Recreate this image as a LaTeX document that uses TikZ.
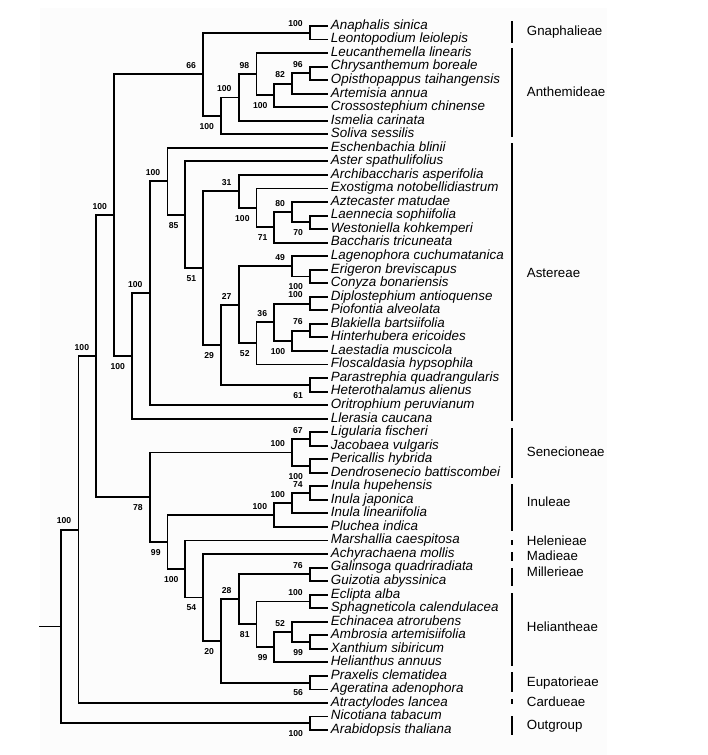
\documentclass[tikz,border=0pt]{standalone}
\usepackage{fontspec}
\setmainfont{Liberation Sans}
\begin{document}
\begin{tikzpicture}[x=1pt,y=-1pt,line width=1.9pt,line join=miter,
  taxon/.style={anchor=west,font=\fontsize{13.4}{14}\selectfont\itshape,inner xsep=2.3pt,inner ysep=0pt,text height=10pt,text depth=3.3pt},
  clade/.style={anchor=west,font=\fontsize{13.3}{14}\selectfont,inner sep=0pt,text height=10pt,text depth=3.3pt},
  supa/.style={anchor=south east,font=\fontsize{8.6}{9}\selectfont\bfseries,inner sep=0pt,xshift=-6.3pt,yshift=4.8pt},
  supb/.style={anchor=north east,font=\fontsize{8.6}{9}\selectfont\bfseries,inner sep=0pt,xshift=-6pt,yshift=-6.3pt},
  bar/.style={line width=1.9pt}]
\useasboundingbox (0,0) rectangle (708,755);
\fill[black!1] (40,8) rectangle (607,755);
% leaves
\foreach \t [count=\i from 0] in {Anaphalis sinica,Leontopodium leiolepis,Leucanthemella linearis,Chrysanthemum boreale,Opisthopappus taihangensis,Artemisia annua,Crossostephium chinense,Ismelia carinata,Soliva sessilis,Eschenbachia blinii,Aster spathulifolius,Archibaccharis asperifolia,Exostigma notobellidiastrum,Aztecaster matudae,Laennecia sophiifolia,Westoniella kohkemperi,Baccharis tricuneata,Lagenophora cuchumatanica,Erigeron breviscapus,Conyza bonariensis,Diplostephium antioquense,Piofontia alveolata,Blakiella bartsiifolia,Hinterhubera ericoides,Laestadia muscicola,Floscaldasia hypsophila,Parastrephia quadrangularis,Heterothalamus alienus,Oritrophium peruvianum,Llerasia caucana,Ligularia fischeri,Jacobaea vulgaris,Pericallis hybrida,Dendrosenecio battiscombei,Inula hupehensis,Inula japonica,Inula lineariifolia,Pluchea indica,Marshallia caespitosa,Achyrachaena mollis,Galinsoga quadriradiata,Guizotia abyssinica,Eclipta alba,Sphagneticola calendulacea,Echinacea atrorubens,Ambrosia artemisiifolia,Xanthium sibiricum,Helianthus annuus,Praxelis clematidea,Ageratina adenophora,Atractylodes lancea,Nicotiana tabacum,Arabidopsis thaliana}
  \node[taxon] (t\i) at (327.7,{26+13.54*\i}) {\t};
% internal nodes
\coordinate (G) at (309.9,32.77);
\coordinate (A6) at (309.9,73.39);
\coordinate (A5) at (292.1,83.55);
\coordinate (A4) at (274.3,95.39);
\coordinate (A3) at (256.5,74.24);
\coordinate (A2) at (238.7,97.51);
\coordinate (A1) at (220.9,115.91);
\coordinate (A0) at (203.1,74.34);
\coordinate (B310) at (309.9,222.33);
\coordinate (B292) at (292.1,212.18);
\coordinate (B275) at (274.3,227.41);
\coordinate (B257) at (256.5,207.94);
\coordinate (B239) at (238.7,191.44);
\coordinate (C310) at (309.9,276.49);
\coordinate (C292) at (292.1,266.34);
\coordinate (D310) at (309.9,303.57);
\coordinate (E310) at (309.9,330.65);
\coordinate (E292) at (292.1,340.81);
\coordinate (D275) at (274.3,322.19);
\coordinate (D257) at (256.5,343.35);
\coordinate (C239) at (238.7,304.84);
\coordinate (F310) at (309.9,384.81);
\coordinate (C221) at (220.9,344.83);
\coordinate (B203) at (203.1,268.14);
\coordinate (B185) at (185.3,214.77);
\coordinate (B168) at (167.5,181.32);
\coordinate (B150) at (149.7,293.22);
\coordinate (B132) at (131.9,355.94);
\coordinate (N114) at (114.1,215.14);
\coordinate (S1) at (309.9,438.97);
\coordinate (S2) at (309.9,466.05);
\coordinate (S0) at (292.1,452.51);
\coordinate (I2) at (309.9,493.13);
\coordinate (I1) at (292.1,503.29);
\coordinate (I0) at (274.3,515.14);
\coordinate (M310) at (309.9,574.37);
\coordinate (E2) at (309.9,601.45);
\coordinate (AX) at (309.9,642.07);
\coordinate (H292) at (292.1,631.92);
\coordinate (H275) at (274.3,647.15);
\coordinate (H257) at (256.5,624.30);
\coordinate (H239) at (238.7,599.34);
\coordinate (P310) at (309.9,682.69);
\coordinate (H221) at (220.9,641.02);
\coordinate (H203) at (203.1,597.54);
\coordinate (H185) at (185.3,569.03);
\coordinate (N168) at (167.5,542.09);
\coordinate (N150) at (149.7,497.30);
\coordinate (N97) at (96.3,356.22);
\coordinate (N78) at (78.5,529.61);
\coordinate (O310) at (309.9,723.31);
\coordinate (Root) at (60.7,626.46);
\coordinate (R0) at (39.3,626.46);
% branches: Gnaphalieae + Anthemideae
\draw (t0.west) -| (G) |- (t1.west);
\draw (t3.west) -| (A6) |- (t4.west);
\draw (A6) -| (A5) |- (t5.west);
\draw (A5) -| (A4) |- (t6.west);
\draw (t2.west) -| (A3) |- (A4);
\draw (A3) -| (A2) |- (t7.west);
\draw (A2) -| (A1) |- (t8.west);
\draw (G) -| (A0) |- (A1);
% Astereae
\draw (t14.west) -| (B310) |- (t15.west);
\draw (t13.west) -| (B292) |- (B310);
\draw (B292) -| (B275) |- (t16.west);
\draw (t12.west) -| (B257) |- (B275);
\draw (t11.west) -| (B239) |- (B257);
\draw (t18.west) -| (C310) |- (t19.west);
\draw (t17.west) -| (C292) |- (C310);
\draw (t20.west) -| (D310) |- (t21.west);
\draw (t22.west) -| (E310) |- (t23.west);
\draw (E310) -| (E292) |- (t24.west);
\draw (D310) -| (D275) |- (E292);
\draw (D275) -| (D257) |- (t25.west);
\draw (C292) -| (C239) |- (D257);
\draw (t26.west) -| (F310) |- (t27.west);
\draw (C239) -| (C221) |- (F310);
\draw (B239) -| (B203) |- (C221);
\draw (t10.west) -| (B185) |- (B203);
\draw (t9.west) -| (B168) |- (B185);
\draw (B168) -| (B150) |- (t28.west);
\draw (B150) -| (B132) |- (t29.west);
\draw (A0) -| (N114) |- (B132);
% Senecioneae, Inuleae
\draw (t30.west) -| (S1) |- (t31.west);
\draw (t32.west) -| (S2) |- (t33.west);
\draw (S1) -| (S0) |- (S2);
\draw (t34.west) -| (I2) |- (t35.west);
\draw (I2) -| (I1) |- (t36.west);
\draw (I1) -| (I0) |- (t37.west);
% Heliantheae alliance
\draw (t40.west) -| (M310) |- (t41.west);
\draw (t42.west) -| (E2) |- (t43.west);
\draw (t45.west) -| (AX) |- (t46.west);
\draw (t44.west) -| (H292) |- (AX);
\draw (H292) -| (H275) |- (t47.west);
\draw (E2) -| (H257) |- (H275);
\draw (M310) -| (H239) |- (H257);
\draw (t48.west) -| (P310) |- (t49.west);
\draw (H239) -| (H221) |- (P310);
\draw (t39.west) -| (H203) |- (H221);
\draw (t38.west) -| (H185) |- (H203);
\draw (I0) -| (N168) |- (H185);
\draw (S0) -| (N150) |- (N168);
\draw (N114) -| (N97) |- (N150);
\draw (N97) -| (N78) |- (t50.west);
\draw (t51.west) -| (O310) |- (t52.west);
\draw (N78) -| (Root) |- (O310);
\draw (R0) -- (Root);
% support values
\node[supa] (lG) at (G) {100};
\node[supa] (lA6) at (A6) {96};
\node[supa] (lA5) at (A5) {82};
\node[supb] (lA4) at (A4) {100};
\node[supa] (lA3) at (A3) {98};
\node[supa] (lA2) at (A2) {100};
\node[supb] (lA1) at (A1) {100};
\node[supa] (lA0) at (A0) {66};
\node[supb] (lB310) at (B310) {70};
\node[supa] (lB292) at (B292) {80};
\node[supb] (lB275) at (B275) {71};
\node[supb] (lB257) at (B257) {100};
\node[supa] (lB239) at (B239) {31};
\node[supb] (lC310) at (C310) {100};
\node[supa] (lC292) at (C292) {49};
\node[supa] (lD310) at (D310) {100};
\node[supa] (lE310) at (E310) {76};
\node[supb] (lE292) at (E292) {100};
\node[supa] (lD275) at (D275) {36};
\node[supb] (lD257) at (D257) {52};
\node[supa] (lC239) at (C239) {27};
\node[supb] (lF310) at (F310) {61};
\node[supb] (lC221) at (C221) {29};
\node[supb] (lB203) at (B203) {51};
\node[supb] (lB185) at (B185) {85};
\node[supa] (lB168) at (B168) {100};
\node[supa] (lB150) at (B150) {100};
\node[supb] (lB132) at (B132) {100};
\node[supa] (lN114) at (N114) {100};
\node[supa] (lS1) at (S1) {67};
\node[supb] (lS2) at (S2) {100};
\node[supa] (lS0) at (S0) {100};
\node[supa] (lI2) at (I2) {74};
\node[supa] (lI1) at (I1) {100};
\node[supa] (lI0) at (I0) {100};
\node[supa] (lM310) at (M310) {76};
\node[supa] (lE2) at (E2) {100};
\node[supb] (lAX) at (AX) {99};
\node[supa] (lH292) at (H292) {52};
\node[supb] (lH275) at (H275) {99};
\node[supb] (lH257) at (H257) {81};
\node[supa] (lH239) at (H239) {28};
\node[supb] (lP310) at (P310) {56};
\node[supb] (lH221) at (H221) {20};
\node[supb] (lH203) at (H203) {54};
\node[supb] (lH185) at (H185) {100};
\node[supb] (lN168) at (N168) {99};
\node[supb] (lN150) at (N150) {78};
\node[supa] (lN97) at (N97) {100};
\node[supa] (lN78) at (N78) {100};
\node[supb] (lO310) at (O310) {100};
% clade bars and names
\draw[bar] (512.3,21) -- (512.3,43);
\draw[bar] (512.3,48) -- (512.3,137);
\draw[bar] (512.3,143) -- (512.3,421);
\draw[bar] (512.3,428) -- (512.3,478);
\draw[bar] (512.3,484) -- (512.3,531);
\draw[bar] (512.3,540) -- (512.3,545);
\draw[bar] (512.3,552) -- (512.3,561);
\draw[bar] (512.3,568) -- (512.3,586);
\draw[bar] (512.3,593) -- (512.3,666);
\draw[bar] (512.3,672) -- (512.3,692);
\draw[bar] (512.3,699) -- (512.3,704);
\draw[bar] (512.3,716) -- (512.3,735);
\node[clade] (c1) at (526,32) {Gnaphalieae};
\node[clade] (c2) at (526,93) {Anthemideae};
\node[clade] (c3) at (526,274) {Astereae};
\node[clade] (c4) at (526,453) {Senecioneae};
\node[clade] (c5) at (526,503) {Inuleae};
\node[clade] (c6) at (526,542) {Helenieae};
\node[clade] (c7) at (526,557) {Madieae};
\node[clade] (c8) at (526,573) {Millerieae};
\node[clade] (c9) at (526,628) {Heliantheae};
\node[clade] (c10) at (526,683) {Eupatorieae};
\node[clade] (c11) at (526,703) {Cardueae};
\node[clade] (c12) at (526,726) {Outgroup};
\end{tikzpicture}
\end{document}
